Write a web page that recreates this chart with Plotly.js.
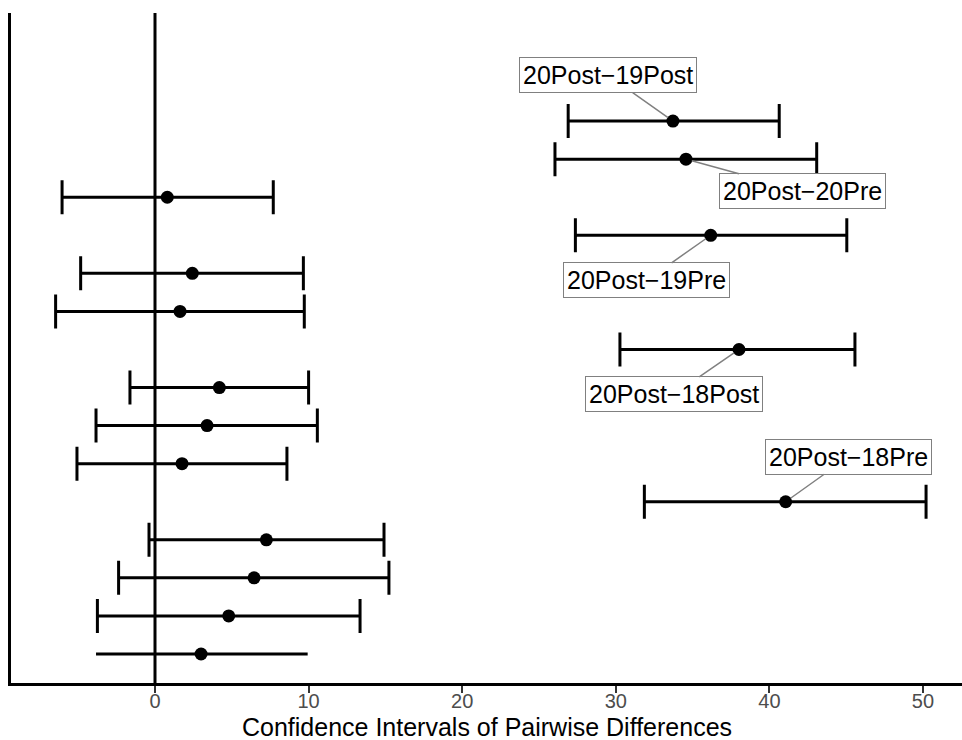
<!DOCTYPE html>
<html>
<head>
<meta charset="utf-8">
<script src="https://cdn.plot.ly/plotly-3.0.1.min.js"></script>
<style>html,body{margin:0;padding:0;background:#fff;}#chart{width:962px;height:740px;}</style>
</head>
<body>
<div id="chart"></div>
<script>
// Comparisons, bottom row first
const comparisons = [
  "18Post-18Pre","19Pre-18Pre","19Post-18Pre","20Pre-18Pre","20Post-18Pre",
  "19Pre-18Post","19Post-18Post","20Pre-18Post","20Post-18Post",
  "19Post-19Pre","20Pre-19Pre","20Post-19Pre",
  "20Pre-19Post","20Post-20Pre","20Post-19Post"
];
const estimate = [3.0, 4.8, 6.45, 7.25, 41.06, 1.76, 3.39, 4.19, 38.02, 1.63, 2.43, 36.18, 0.80, 34.57, 33.72];
const lower    = [-3.84, -3.75, -2.37, -0.39, 31.86, -5.08, -3.84, -1.63, 30.27, -6.47, -4.84, 27.37, -6.05, 26.04, 26.9];
const upper    = [9.94, 13.35, 15.23, 14.91, 50.2, 8.59, 10.57, 10.0, 45.57, 9.72, 9.66, 45.04, 7.70, 43.08, 40.64];
const xTicks = [0, 10, 20, 30, 40, 50];
const xTitle = 'Confidence Intervals of Pairwise Differences';
const labelText = {
  "20Post-19Post": "20Post\u221219Post",
  "20Post-20Pre": "20Post\u221220Pre",
  "20Post-19Pre": "20Post\u221219Pre",
  "20Post-18Post": "20Post\u221218Post",
  "20Post-18Pre": "20Post\u221218Pre"
};
// label offsets (pixels) from point to label centre
const labelOffset = {
  "20Post-19Post": [-65, -46],
  "20Post-20Pre": [117, 32],
  "20Post-19Pre": [-64, 45],
  "20Post-18Post": [-65, 45],
  "20Post-18Pre": [63, -45]
};

// first row drawn without caps (as in the reference)
const capIdx = comparisons.map((c,i)=>i).filter(i=>i!==0);
const noCapIdx = [0];

function trace(idx, w){
  return {
    type:'scatter', mode:'markers',
    x: idx.map(i=>estimate[i]),
    y: idx.map(i=>comparisons[i]),
    marker:{color:'#000', size:13},
    error_x:{type:'data', symmetric:false,
      array: idx.map(i=>upper[i]-estimate[i]),
      arrayminus: idx.map(i=>estimate[i]-lower[i]),
      color:'#000', thickness:3, width:w},
    hoverinfo:'skip', showlegend:false
  };
}

const annotations = Object.keys(labelText).map(k=>{
  const i = comparisons.indexOf(k);
  return {
    x: estimate[i], y: comparisons[i], xref:'x', yref:'y',
    text: labelText[k], showarrow:true, arrowhead:0, arrowwidth:1.5,
    arrowcolor:'#808080', ax: labelOffset[k][0], ay: labelOffset[k][1],
    standoff:6, bgcolor:'#fff', bordercolor:'#808080', borderwidth:1, borderpad:3,
    font:{family:'Liberation Sans, Arial, sans-serif', size:25, color:'#000'}
  };
});
annotations.push({
  text: xTitle, xref:'paper', yref:'paper', x:0.5, y:-0.066,
  xanchor:'center', yanchor:'middle', showarrow:false,
  font:{family:'Liberation Sans, Arial, sans-serif', size:25, color:'#000'}
});

const layout = {
  width:962, height:740,
  margin:{l:11, r:0, t:13, b:57},
  paper_bgcolor:'#fff', plot_bgcolor:'#fff',
  showlegend:false,
  xaxis:{
    range:[-9.375, 52.54], tickvals:xTicks,
    showgrid:false, zeroline:false, showline:true, linecolor:'#000', linewidth:3,
    ticks:'outside', ticklen:7, tickwidth:2, tickcolor:'#333',
    ticklabelstandoff:-9,
    tickfont:{family:'Liberation Sans, Arial, sans-serif', size:20, color:'#4d4d4d'}
  },
  yaxis:{
    type:'category', categoryorder:'array', categoryarray:comparisons,
    range:[-0.762, 16.84], showticklabels:false, ticks:'',
    showgrid:false, zeroline:false, showline:true, linecolor:'#000', linewidth:3
  },
  shapes:[{type:'line', xref:'x', yref:'paper', x0:0, x1:0, y0:0, y1:1,
    line:{color:'#000', width:3}, layer:'below'}],
  annotations: annotations
};

Plotly.newPlot('chart', [trace(capIdx, 17), trace(noCapIdx, 0)], layout, {displayModeBar:false, staticPlot:true});
</script>
</body>
</html>
